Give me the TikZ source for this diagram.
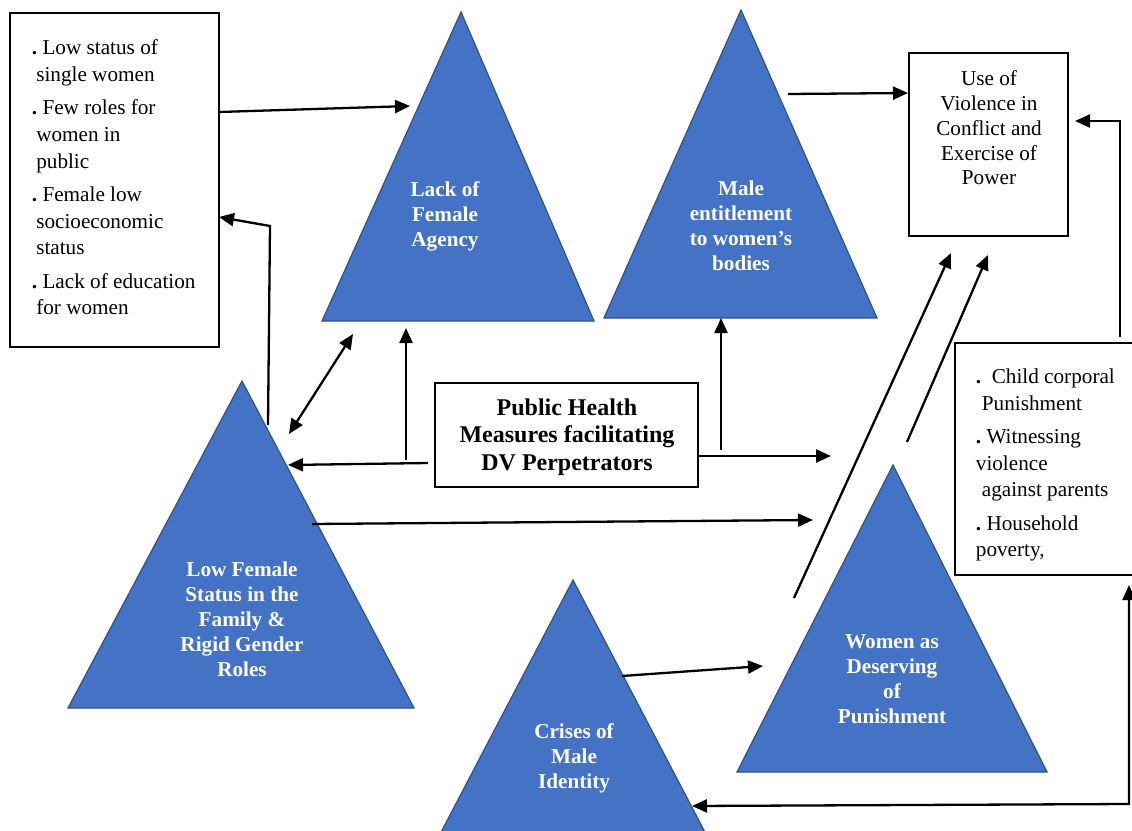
\documentclass[tikz,border=0pt]{standalone}
\usepackage{fontspec}
\setmainfont{Liberation Serif}
\usetikzlibrary{arrows.meta}
\definecolor{triblue}{HTML}{4472C4}
\definecolor{triedge}{HTML}{2F528F}
\newcommand{\listdot}{\textbf{.}}
\begin{document}
\begin{tikzpicture}[x=0.5pt,y=-0.5pt,
  tri/.style={fill=triblue,draw=triedge,line width=0.6pt,line join=miter},
  tritext/.style={text=white,font=\fontsize{10.6}{12.5}\selectfont\bfseries,align=center,inner sep=0pt},
  box/.style={draw=black,line width=1pt,fill=white,inner sep=0pt,outer sep=0pt},
  listtext/.style={font=\fontsize{10.6}{13.3}\selectfont,align=left,inner sep=0pt,anchor=north west},
  arr/.style={line width=1.15pt,-{Triangle[length=7.5pt,width=6.5pt]}},
  dblarr/.style={line width=1.15pt,{Triangle[length=7.5pt,width=6.5pt]}-{Triangle[length=7.5pt,width=6.5pt]}}]
\useasboundingbox (0,0) rectangle (1132,831);
\clip (0,0) rectangle (1132,831);

% ---- triangles ----
\path[tri] (461,12) -- (594,321) -- (322,321) -- cycle;
\path[tri] (741,10) -- (877,318) -- (604,318) -- cycle;
\path[tri] (242,381) -- (414,708) -- (68,708) -- cycle;
\path[tri] (573,580) -- (730,880) -- (416,880) -- cycle;
\path[tri] (893,465) -- (1047,772) -- (737,772) -- cycle;

\node[tritext] (agency) at (445,216) {Lack of\\Female\\Agency};
\node[tritext] (entitle) at (741,226) {Male\\entitlement\\to women’s\\bodies};
\node[tritext] (status) at (242,619) {Low Female\\Status in the\\Family \&\\Rigid Gender\\Roles};
\node[tritext] (crises) at (574,758) {Crises of\\Male\\Identity};
\node[tritext] (deserve) at (892,679) {Women as\\Deserving\\of\\Punishment};

% ---- boxes ----
\node[box,minimum width=104.5pt,minimum height=167pt] (lbox) at (114.5,180) {};
\node[listtext] (ltext) at (31.5,39.5) {\listdot\ Low status of\\
  \hspace{2.2pt}single women\\[3.4pt]
  \listdot\ Few roles for\\
  \hspace{2.2pt}women in\\
  \hspace{2.2pt}public\\[3.4pt]
  \listdot\ Female low\\
  \hspace{2.2pt}socioeconomic\\
  \hspace{2.2pt}status\\[3.4pt]
  \listdot\ Lack of education\\
  \hspace{2.2pt}for women};

\node[box,minimum width=79.5pt,minimum height=91.5pt] (vbox) at (988.5,144.5) {};
\node[font=\fontsize{10.6}{12.4}\selectfont,align=center,inner sep=0pt] (vtext) at (989,128)
  {Use of\\Violence in\\Conflict and\\Exercise of\\Power};

\node[box,minimum width=131.5pt,minimum height=52pt] (phbox) at (566.5,435) {};
\node[font=\fontsize{12}{13.75}\selectfont\bfseries,align=center,inner sep=0pt] (phtext) at (567,437)
  {Public Health\\Measures facilitating\\DV Perpetrators};

\node[box,minimum width=92.5pt,minimum height=116pt] (rbox) at (1047.5,459) {};
\node[listtext] (rtext) at (975.5,368.5) {\listdot~~Child corporal\\
  \hspace{3pt}Punishment\\[3.4pt]
  \listdot\ Witnessing\\
  violence\\
  \hspace{3pt}against parents\\[3.4pt]
  \listdot\ Household\\
  poverty,};

% ---- connector end points ----
\coordinate (a1s) at (219,112);  \coordinate (a1e) at (410,106);
\coordinate (a2s) at (268,425);  \coordinate (a2m) at (270,226); \coordinate (a2e) at (219,217);
\coordinate (a3s) at (289,434);  \coordinate (a3e) at (353,334);
\coordinate (a4s) at (406,460);  \coordinate (a4e) at (406,328);
\coordinate (a5s) at (428,463);  \coordinate (a5e) at (288,465);
\coordinate (a6s) at (721,450);  \coordinate (a6e) at (721,318);
\coordinate (a7e) at (831,456);
\coordinate (a8s) at (788,94);   \coordinate (a8e) at (908,93);
\coordinate (a9s) at (312,524);  \coordinate (a9e) at (813,520);
\coordinate (a10s) at (794,598); \coordinate (a10e) at (951,253);
\coordinate (a11s) at (907,442); \coordinate (a11e) at (988,255);
\coordinate (a12s) at (1120,337); \coordinate (a12m) at (1120,121); \coordinate (a12e) at (1075,121);
\coordinate (a13s) at (622,676); \coordinate (a13e) at (763,666);
\coordinate (a14a) at (692,806); \coordinate (a14m) at (1129,804); \coordinate (a14b) at (1129,585);

% ---- connectors ----
\draw[arr] (a1s) -- (a1e);
\draw[arr] (a2s) -- (a2m) -- (a2e);
\draw[dblarr] (a3s) -- (a3e);
\draw[arr] (a4s) -- (a4e);
\draw[arr] (a5s) -- (a5e);
\draw[arr] (a6s) -- (a6e);
\draw[arr] (phbox.east |- a7e) -- (a7e);
\draw[arr] (a8s) -- (a8e);
\draw[arr] (a9s) -- (a9e);
\draw[arr] (a10s) -- (a10e);
\draw[arr] (a11s) -- (a11e);
\draw[arr] (a12s) -- (a12m) -- (a12e);
\draw[arr] (a13s) -- (a13e);
\draw[dblarr] (a14a) -- (a14m) -- (a14b);
\end{tikzpicture}
\end{document}
